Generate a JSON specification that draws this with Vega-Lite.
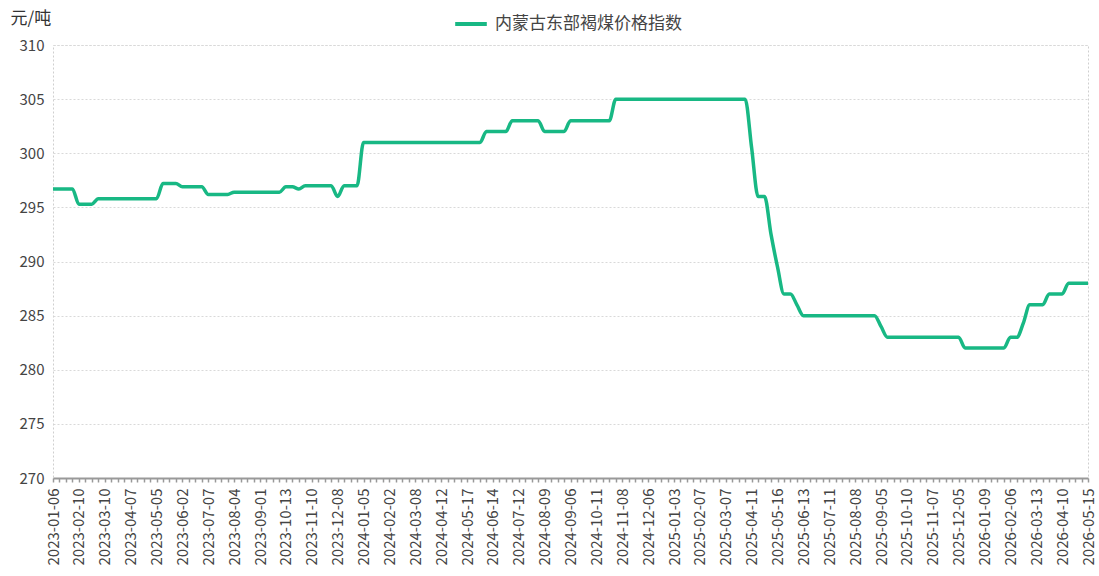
{
  "$schema": "https://vega.github.io/schema/vega-lite/v6.json",
  "width": 1035,
  "height": 433,
  "autosize": {"type": "none"},
  "padding": {"left": 53, "top": 45, "right": 11, "bottom": 98},
  "background": "white",
  "config": {
    "font": "Noto Sans CJK SC",
    "view": {"stroke": "#cfcfcf", "strokeDash": [2, 2], "strokeWidth": 1}
  },
  "data": {
    "values": [
      {"date": "2023-01-06", "price": 296.7}, {"date": "2023-01-13", "price": 296.7}, {"date": "2023-01-20", "price": 296.7}, {"date": "2023-02-03", "price": 296.7},
      {"date": "2023-02-10", "price": 295.3}, {"date": "2023-02-17", "price": 295.3}, {"date": "2023-02-24", "price": 295.3}, {"date": "2023-03-03", "price": 295.8},
      {"date": "2023-03-10", "price": 295.8}, {"date": "2023-03-17", "price": 295.8}, {"date": "2023-03-24", "price": 295.8}, {"date": "2023-03-31", "price": 295.8},
      {"date": "2023-04-07", "price": 295.8}, {"date": "2023-04-14", "price": 295.8}, {"date": "2023-04-21", "price": 295.8}, {"date": "2023-04-28", "price": 295.8},
      {"date": "2023-05-05", "price": 295.8}, {"date": "2023-05-12", "price": 297.2}, {"date": "2023-05-19", "price": 297.2}, {"date": "2023-05-26", "price": 297.2},
      {"date": "2023-06-02", "price": 296.9}, {"date": "2023-06-09", "price": 296.9}, {"date": "2023-06-16", "price": 296.9}, {"date": "2023-06-30", "price": 296.9},
      {"date": "2023-07-07", "price": 296.2}, {"date": "2023-07-14", "price": 296.2}, {"date": "2023-07-21", "price": 296.2}, {"date": "2023-07-28", "price": 296.2},
      {"date": "2023-08-04", "price": 296.4}, {"date": "2023-08-11", "price": 296.4}, {"date": "2023-08-18", "price": 296.4}, {"date": "2023-08-25", "price": 296.4},
      {"date": "2023-09-01", "price": 296.4}, {"date": "2023-09-08", "price": 296.4}, {"date": "2023-09-15", "price": 296.4}, {"date": "2023-09-22", "price": 296.4},
      {"date": "2023-10-13", "price": 296.9}, {"date": "2023-10-20", "price": 296.9}, {"date": "2023-10-27", "price": 296.7}, {"date": "2023-11-03", "price": 297.0},
      {"date": "2023-11-10", "price": 297.0}, {"date": "2023-11-17", "price": 297.0}, {"date": "2023-11-24", "price": 297.0}, {"date": "2023-12-01", "price": 297.0},
      {"date": "2023-12-08", "price": 296.0}, {"date": "2023-12-15", "price": 297.0}, {"date": "2023-12-22", "price": 297.0}, {"date": "2023-12-29", "price": 297.0},
      {"date": "2024-01-05", "price": 301.0}, {"date": "2024-01-12", "price": 301.0}, {"date": "2024-01-19", "price": 301.0}, {"date": "2024-01-26", "price": 301.0},
      {"date": "2024-02-02", "price": 301.0}, {"date": "2024-02-09", "price": 301.0}, {"date": "2024-02-23", "price": 301.0}, {"date": "2024-03-01", "price": 301.0},
      {"date": "2024-03-08", "price": 301.0}, {"date": "2024-03-15", "price": 301.0}, {"date": "2024-03-22", "price": 301.0}, {"date": "2024-03-29", "price": 301.0},
      {"date": "2024-04-12", "price": 301.0}, {"date": "2024-04-19", "price": 301.0}, {"date": "2024-04-26", "price": 301.0}, {"date": "2024-05-10", "price": 301.0},
      {"date": "2024-05-17", "price": 301.0}, {"date": "2024-05-24", "price": 301.0}, {"date": "2024-05-31", "price": 301.0}, {"date": "2024-06-07", "price": 302.0},
      {"date": "2024-06-14", "price": 302.0}, {"date": "2024-06-21", "price": 302.0}, {"date": "2024-06-28", "price": 302.0}, {"date": "2024-07-05", "price": 303.0},
      {"date": "2024-07-12", "price": 303.0}, {"date": "2024-07-19", "price": 303.0}, {"date": "2024-07-26", "price": 303.0}, {"date": "2024-08-02", "price": 303.0},
      {"date": "2024-08-09", "price": 302.0}, {"date": "2024-08-16", "price": 302.0}, {"date": "2024-08-23", "price": 302.0}, {"date": "2024-08-30", "price": 302.0},
      {"date": "2024-09-06", "price": 303.0}, {"date": "2024-09-13", "price": 303.0}, {"date": "2024-09-20", "price": 303.0}, {"date": "2024-09-27", "price": 303.0},
      {"date": "2024-10-11", "price": 303.0}, {"date": "2024-10-18", "price": 303.0}, {"date": "2024-10-25", "price": 303.0}, {"date": "2024-11-01", "price": 305.0},
      {"date": "2024-11-08", "price": 305.0}, {"date": "2024-11-15", "price": 305.0}, {"date": "2024-11-22", "price": 305.0}, {"date": "2024-11-29", "price": 305.0},
      {"date": "2024-12-06", "price": 305.0}, {"date": "2024-12-13", "price": 305.0}, {"date": "2024-12-20", "price": 305.0}, {"date": "2024-12-27", "price": 305.0},
      {"date": "2025-01-03", "price": 305.0}, {"date": "2025-01-10", "price": 305.0}, {"date": "2025-01-17", "price": 305.0}, {"date": "2025-01-24", "price": 305.0},
      {"date": "2025-02-07", "price": 305.0}, {"date": "2025-02-14", "price": 305.0}, {"date": "2025-02-21", "price": 305.0}, {"date": "2025-02-28", "price": 305.0},
      {"date": "2025-03-07", "price": 305.0}, {"date": "2025-03-14", "price": 305.0}, {"date": "2025-03-21", "price": 305.0}, {"date": "2025-03-28", "price": 305.0},
      {"date": "2025-04-11", "price": 300.5}, {"date": "2025-04-18", "price": 296.0}, {"date": "2025-04-25", "price": 296.0}, {"date": "2025-05-09", "price": 292.5},
      {"date": "2025-05-16", "price": 289.5}, {"date": "2025-05-23", "price": 287.0}, {"date": "2025-05-30", "price": 287.0}, {"date": "2025-06-06", "price": 286.0},
      {"date": "2025-06-13", "price": 285.0}, {"date": "2025-06-20", "price": 285.0}, {"date": "2025-06-27", "price": 285.0}, {"date": "2025-07-04", "price": 285.0},
      {"date": "2025-07-11", "price": 285.0}, {"date": "2025-07-18", "price": 285.0}, {"date": "2025-07-25", "price": 285.0}, {"date": "2025-08-01", "price": 285.0},
      {"date": "2025-08-08", "price": 285.0}, {"date": "2025-08-15", "price": 285.0}, {"date": "2025-08-22", "price": 285.0}, {"date": "2025-08-29", "price": 285.0},
      {"date": "2025-09-05", "price": 284.0}, {"date": "2025-09-12", "price": 283.0}, {"date": "2025-09-19", "price": 283.0}, {"date": "2025-09-26", "price": 283.0},
      {"date": "2025-10-10", "price": 283.0}, {"date": "2025-10-17", "price": 283.0}, {"date": "2025-10-24", "price": 283.0}, {"date": "2025-10-31", "price": 283.0},
      {"date": "2025-11-07", "price": 283.0}, {"date": "2025-11-14", "price": 283.0}, {"date": "2025-11-21", "price": 283.0}, {"date": "2025-11-28", "price": 283.0},
      {"date": "2025-12-05", "price": 283.0}, {"date": "2025-12-12", "price": 282.0}, {"date": "2025-12-19", "price": 282.0}, {"date": "2025-12-26", "price": 282.0},
      {"date": "2026-01-09", "price": 282.0}, {"date": "2026-01-16", "price": 282.0}, {"date": "2026-01-23", "price": 282.0}, {"date": "2026-01-30", "price": 282.0},
      {"date": "2026-02-06", "price": 283.0}, {"date": "2026-02-13", "price": 283.0}, {"date": "2026-02-27", "price": 284.3}, {"date": "2026-03-06", "price": 286.0},
      {"date": "2026-03-13", "price": 286.0}, {"date": "2026-03-20", "price": 286.0}, {"date": "2026-03-27", "price": 287.0}, {"date": "2026-04-03", "price": 287.0},
      {"date": "2026-04-10", "price": 287.0}, {"date": "2026-04-17", "price": 288.0}, {"date": "2026-04-24", "price": 288.0}, {"date": "2026-05-08", "price": 288.0},
      {"date": "2026-05-15", "price": 288.0}
    ]
  },
  "transform": [{"calculate": "'内蒙古东部褐煤价格指数'", "as": "series"}],
  "mark": {"type": "line", "interpolate": "monotone", "strokeWidth": 3.5, "clip": true},
  "encoding": {
    "x": {
      "field": "date",
      "type": "ordinal",
      "scale": {"type": "point", "padding": 0},
      "axis": {
        "title": null,
        "labelAngle": -90,
        "labelFontSize": 15,
        "labelColor": "#444",
        "labelPadding": 6,
        "labelOverlap": false,
        "labelExpr": "indexof(['2023-01-06','2023-02-10','2023-03-10','2023-04-07','2023-05-05','2023-06-02','2023-07-07','2023-08-04','2023-09-01','2023-10-13','2023-11-10','2023-12-08','2024-01-05','2024-02-02','2024-03-08','2024-04-12','2024-05-17','2024-06-14','2024-07-12','2024-08-09','2024-09-06','2024-10-11','2024-11-08','2024-12-06','2025-01-03','2025-02-07','2025-03-07','2025-04-11','2025-05-16','2025-06-13','2025-07-11','2025-08-08','2025-09-05','2025-10-10','2025-11-07','2025-12-05','2026-01-09','2026-02-06','2026-03-13','2026-04-10','2026-05-15'], datum.value) >= 0 ? datum.value : ''",
        "tickColor": "#999999",
        "tickSize": 4,
        "tickWidth": 1.5,
        "domainColor": "#999999",
        "domainWidth": 2,
        "grid": false
      }
    },
    "y": {
      "field": "price",
      "type": "quantitative",
      "scale": {"domain": [270, 310], "nice": false, "zero": false},
      "axis": {
        "values": [270, 275, 280, 285, 290, 295, 300, 305, 310],
        "title": "元/吨",
        "titleAngle": 0,
        "titleAlign": "left",
        "titleBaseline": "alphabetic",
        "titleX": -43,
        "titleY": -22,
        "titleFontSize": 17,
        "titleFontWeight": "normal",
        "titleColor": "#333",
        "labelFontSize": 15,
        "labelColor": "#444",
        "labelPadding": 9,
        "ticks": false,
        "domain": false,
        "grid": true,
        "gridColor": "#d9d9d9",
        "gridDash": [2, 2],
        "gridWidth": 1
      }
    },
    "color": {
      "field": "series",
      "type": "nominal",
      "scale": {"range": ["#18b884"]},
      "legend": {
        "title": null,
        "orient": "none",
        "legendX": 400,
        "legendY": -39,
        "symbolType": "stroke",
        "symbolSize": 1000,
        "symbolStrokeWidth": 4,
        "labelFontSize": 17,
        "labelColor": "#444",
        "labelOffset": 6,
        "labelLimit": 0
      }
    }
  }
}
